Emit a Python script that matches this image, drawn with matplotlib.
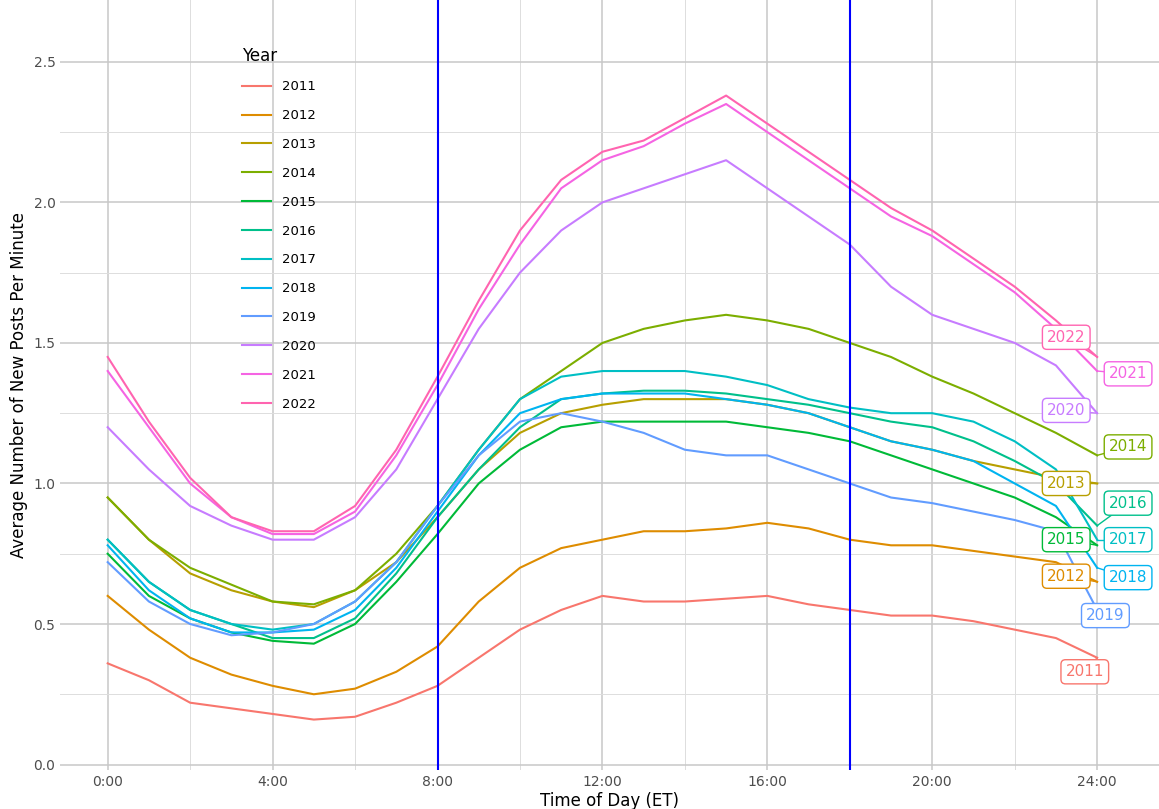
import numpy as np
import matplotlib.pyplot as plt

hours = list(range(25))
years = ['2011', '2012', '2013', '2014', '2015', '2016', '2017', '2018', '2019', '2020', '2021', '2022']
colores = ['#F8766D', '#DE8C00', '#B79F00', '#7CAE00', '#00BA38', '#00C08B',
           '#00BFC4', '#00B4F0', '#619CFF', '#C77CFF', '#F564E3', '#FF64B0']

posts = {
    '2011': [0.36, 0.30, 0.22, 0.20, 0.18, 0.16, 0.17, 0.22, 0.28, 0.38, 0.48, 0.55, 0.60, 0.58, 0.58, 0.59, 0.60, 0.57, 0.55, 0.53, 0.53, 0.51, 0.48, 0.45, 0.38],
    '2012': [0.60, 0.48, 0.38, 0.32, 0.28, 0.25, 0.27, 0.33, 0.42, 0.58, 0.70, 0.77, 0.80, 0.83, 0.83, 0.84, 0.86, 0.84, 0.80, 0.78, 0.78, 0.76, 0.74, 0.72, 0.65],
    '2013': [0.95, 0.80, 0.68, 0.62, 0.58, 0.56, 0.62, 0.72, 0.88, 1.05, 1.18, 1.25, 1.28, 1.30, 1.30, 1.30, 1.28, 1.25, 1.20, 1.15, 1.12, 1.08, 1.05, 1.02, 1.00],
    '2014': [0.95, 0.80, 0.70, 0.64, 0.58, 0.57, 0.62, 0.75, 0.92, 1.12, 1.30, 1.40, 1.50, 1.55, 1.58, 1.60, 1.58, 1.55, 1.50, 1.45, 1.38, 1.32, 1.25, 1.18, 1.10],
    '2015': [0.75, 0.60, 0.52, 0.47, 0.44, 0.43, 0.50, 0.65, 0.82, 1.00, 1.12, 1.20, 1.22, 1.22, 1.22, 1.22, 1.20, 1.18, 1.15, 1.10, 1.05, 1.00, 0.95, 0.88, 0.78],
    '2016': [0.80, 0.65, 0.55, 0.50, 0.45, 0.45, 0.52, 0.68, 0.88, 1.05, 1.20, 1.30, 1.32, 1.33, 1.33, 1.32, 1.30, 1.28, 1.25, 1.22, 1.20, 1.15, 1.08, 1.00, 0.85],
    '2017': [0.80, 0.65, 0.55, 0.50, 0.48, 0.50, 0.58, 0.72, 0.92, 1.12, 1.30, 1.38, 1.40, 1.40, 1.40, 1.38, 1.35, 1.30, 1.27, 1.25, 1.25, 1.22, 1.15, 1.05, 0.80],
    '2018': [0.78, 0.62, 0.52, 0.47, 0.47, 0.48, 0.55, 0.70, 0.90, 1.10, 1.25, 1.30, 1.32, 1.32, 1.32, 1.30, 1.28, 1.25, 1.20, 1.15, 1.12, 1.08, 1.00, 0.92, 0.70],
    '2019': [0.72, 0.58, 0.50, 0.46, 0.47, 0.50, 0.58, 0.72, 0.92, 1.10, 1.22, 1.25, 1.22, 1.18, 1.12, 1.10, 1.10, 1.05, 1.00, 0.95, 0.93, 0.90, 0.87, 0.83, 0.55],
    '2020': [1.20, 1.05, 0.92, 0.85, 0.80, 0.80, 0.88, 1.05, 1.30, 1.55, 1.75, 1.90, 2.00, 2.05, 2.10, 2.15, 2.05, 1.95, 1.85, 1.70, 1.60, 1.55, 1.50, 1.42, 1.25],
    '2021': [1.40, 1.20, 1.00, 0.88, 0.82, 0.82, 0.90, 1.10, 1.35, 1.62, 1.85, 2.05, 2.15, 2.20, 2.28, 2.35, 2.25, 2.15, 2.05, 1.95, 1.88, 1.78, 1.68, 1.55, 1.40],
    '2022': [1.45, 1.22, 1.02, 0.88, 0.83, 0.83, 0.92, 1.12, 1.38, 1.65, 1.90, 2.08, 2.18, 2.22, 2.30, 2.38, 2.28, 2.18, 2.08, 1.98, 1.90, 1.80, 1.70, 1.58, 1.45],
}

# posiciones de las etiquetas finales (hora, valor)
etiquetas = {
    '2011': (23.7, 0.33), '2012': (23.25, 0.67), '2013': (23.25, 1.00), '2014': (24.75, 1.13),
    '2015': (23.25, 0.80), '2016': (24.75, 0.93), '2017': (24.75, 0.80), '2018': (24.75, 0.665),
    '2019': (24.2, 0.53), '2020': (23.25, 1.26), '2021': (24.75, 1.39), '2022': (23.25, 1.52),
}

fig, ax = plt.subplots(figsize=(11.59, 8.09), dpi=100)
fig.subplots_adjust(left=0.052, right=1.0, top=1.0, bottom=0.048)

for y, c in zip(years, colores):
    ax.plot(hours, posts[y], color=c, lw=1.5, label=y)
    lx, ly = etiquetas[y]
    ax.plot([hours[-1], lx], [posts[y][-1], ly], color=c, lw=1)
    ax.text(lx, ly, y, color=c, fontsize=11, ha='center', va='center',
            bbox=dict(boxstyle='round,pad=0.3', fc='white', ec=c, lw=1))

ax.axvline(8, color='blue', lw=1.5)
ax.axvline(18, color='blue', lw=1.5)

ax.set_xlim(-1.15, 25.5)
ax.set_ylim(-0.02, 2.72)
ax.set_xticks(range(0, 25, 4))
ax.set_xticklabels([f'{h}:00' for h in range(0, 25, 4)])
ax.set_xticks(range(2, 25, 4), minor=True)
ax.set_yticks(np.arange(0, 2.6, 0.5))
ax.set_yticklabels([f'{v:.1f}' for v in np.arange(0, 2.6, 0.5)])
ax.set_yticks(np.arange(0.25, 2.7, 0.5), minor=True)
ax.grid(True, which='major', color='#C8C8C8', lw=1.1)
ax.grid(True, which='minor', color='#DDDDDD', lw=0.7)
ax.tick_params(which='both', length=0, labelsize=10, colors='#4D4D4D')
for s in ax.spines.values():
    s.set_visible(False)
ax.set_xlabel('Time of Day (ET)', fontsize=12, labelpad=2)
ax.set_ylabel('Average Number of New Posts Per Minute', fontsize=12, labelpad=4)

leg = ax.legend(title='Year', loc='upper left', bbox_to_anchor=(0.155, 0.955), frameon=False,
                fontsize=9.5, title_fontsize=12, handlelength=2.2, labelspacing=1.2)
leg._legend_box.align = 'left'

plt.savefig('out.png')
